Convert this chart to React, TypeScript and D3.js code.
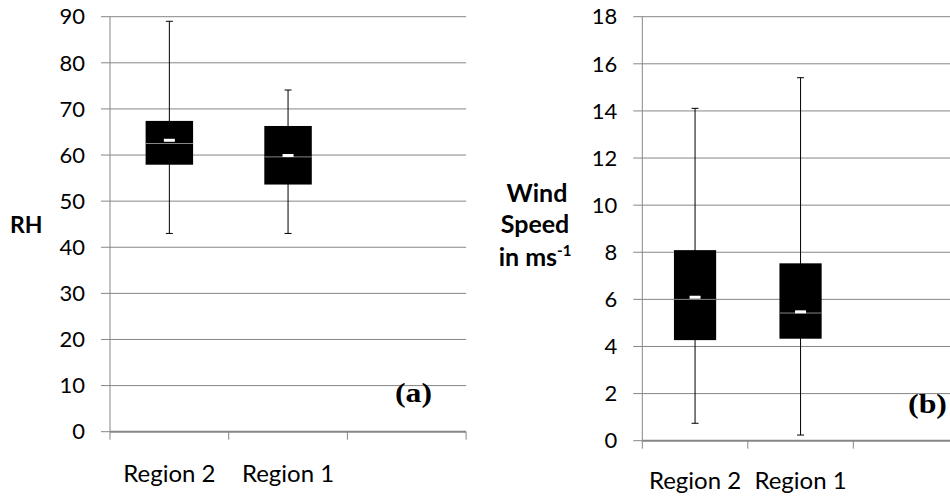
import React from "react";
import * as d3 from "d3";

// Categories along the x axis (third slot is an empty band)
const categories = ["Region 2", "Region 1", ""];

// Relative humidity box statistics, per region
const rhLow = [43, 43];
const rhQ1 = [57.9, 53.6];
const rhMedian = [62.5, 59.6];
const rhMean = [63.2, 59.9];
const rhQ3 = [67.4, 66.3];
const rhHigh = [89, 74.1];
const rhTicks = [0, 10, 20, 30, 40, 50, 60, 70, 80, 90];

// Wind speed box statistics, per region (m/s)
const wsLow = [0.74, 0.24];
const wsQ1 = [4.27, 4.33];
const wsMedian = [6.0, 5.42];
const wsMean = [6.09, 5.47];
const wsQ3 = [8.09, 7.53];
const wsHigh = [14.11, 15.41];
const wsTicks = [0, 2, 4, 6, 8, 10, 12, 14, 16, 18];

const GRID = "#868686";
const SANS = "Lato, 'Open Sans', sans-serif";
const SERIF = "'Liberation Serif', 'Times New Roman', serif";

type PanelProps = {
  left: number;
  bandWidth: number;
  top: number;
  bottom: number;
  maxY: number;
  ticks: number[];
  low: number[];
  q1: number[];
  median: number[];
  mean: number[];
  q3: number[];
  high: number[];
  labelY: number;
};

function BoxPanel(p: PanelProps) {
  const x = d3
    .scaleBand<string>()
    .domain(categories)
    .range([p.left, p.left + p.bandWidth * categories.length])
    .paddingInner(0)
    .paddingOuter(0);
  const y = d3.scaleLinear().domain([0, p.maxY]).range([p.bottom, p.top]);
  const [x0, x1] = x.range();
  const boxW = x.bandwidth() * 0.4;
  const tickEdges = categories.map((c) => x(c)!).concat([x1]);

  return (
    <g>
      {/* horizontal gridlines, extended left as tick marks */}
      {p.ticks.map((t) =>
        t === 0 ? null : (
          <line key={"g" + t} x1={x0 - 9} x2={x1} y1={y(t)} y2={y(t)} stroke={GRID} strokeWidth={1} />
        )
      )}
      <line x1={x0 - 9} x2={x0} y1={y(0)} y2={y(0)} stroke={GRID} strokeWidth={1} />
      {/* y axis */}
      <line x1={x0} x2={x0} y1={y(p.maxY)} y2={y(0)} stroke={GRID} strokeWidth={1} />
      {/* x axis */}
      <line x1={x0} x2={x1} y1={y(0)} y2={y(0)} stroke={GRID} strokeWidth={2} />
      {tickEdges.map((tx, i) => (
        <line key={"xt" + i} x1={tx} x2={tx} y1={y(0)} y2={y(0) + 8} stroke={GRID} strokeWidth={1} />
      ))}
      {/* y tick labels */}
      {p.ticks.map((t) => (
        <text
          key={"yl" + t}
          x={x0 - 25}
          y={y(t)}
          dy="0.35em"
          textAnchor="end"
          fontFamily={SANS}
          fontSize={22}
          fill="#000"
        >
          {t}
        </text>
      ))}
      {/* boxes */}
      {p.low.map((_, i) => {
        const cx = x(categories[i])! + x.bandwidth() / 2;
        return (
          <g key={"b" + i}>
            <line x1={cx} x2={cx} y1={y(p.high[i])} y2={y(p.low[i])} stroke="#000" strokeWidth={1} />
            <line x1={cx - 3.5} x2={cx + 3.5} y1={y(p.high[i])} y2={y(p.high[i])} stroke="#000" strokeWidth={1} />
            <line x1={cx - 3.5} x2={cx + 3.5} y1={y(p.low[i])} y2={y(p.low[i])} stroke="#000" strokeWidth={1} />
            <rect
              x={cx - boxW / 2}
              y={y(p.q3[i])}
              width={boxW}
              height={y(p.q1[i]) - y(p.q3[i])}
              fill="#000"
            />
            <line
              x1={cx - boxW / 2}
              x2={cx + boxW / 2}
              y1={y(p.median[i])}
              y2={y(p.median[i])}
              stroke={GRID}
              strokeWidth={1}
            />
            <rect x={cx - 5.5} y={y(p.mean[i]) - 1.5} width={11} height={3} fill="#fff" />
          </g>
        );
      })}
      {/* category labels */}
      {categories.map((c) =>
        c ? (
          <text
            key={"cl" + c}
            x={x(c)! + x.bandwidth() / 2}
            y={p.labelY}
            textAnchor="middle"
            fontFamily={SANS}
            fontSize={24}
            fill="#000"
          >
            {c}
          </text>
        ) : null
      )}
    </g>
  );
}

export default function App() {
  return (
    <svg
      width={950}
      height={500}
      style={{ position: "absolute", left: 0, top: 0, background: "#fff" }}
    >
      <rect x={0} y={0} width={950} height={500} fill="#fff" />
      <BoxPanel
        left={110}
        bandWidth={118.7}
        top={16.7}
        bottom={431.7}
        maxY={90}
        ticks={rhTicks}
        low={rhLow}
        q1={rhQ1}
        median={rhMedian}
        mean={rhMean}
        q3={rhQ3}
        high={rhHigh}
        labelY={481.5}
      />
      <BoxPanel
        left={642.3}
        bandWidth={105.5}
        top={16.7}
        bottom={440.7}
        maxY={18}
        ticks={wsTicks}
        low={wsLow}
        q1={wsQ1}
        median={wsMedian}
        mean={wsMean}
        q3={wsQ3}
        high={wsHigh}
        labelY={489}
      />
      {/* axis titles */}
      <text x={10} y={233} fontFamily={SANS} fontWeight="bold" fontSize={23} fill="#000">
        RH
      </text>
      <g fontFamily={SANS} fontWeight="bold" fontSize={25} fill="#000" textAnchor="middle">
        <text x={537} y={201.5}>Wind</text>
        <text x={535} y={233}>Speed</text>
        <text x={535} y={266}>
          <tspan>in ms</tspan>
          <tspan fontSize={15} dy={-10}>-1</tspan>
        </text>
      </g>
      {/* panel tags */}
      <text
        x={395}
        y={401.5}
        fontFamily={SERIF}
        fontWeight="bold"
        fontSize={27}
        textLength={37}
        lengthAdjust="spacingAndGlyphs"
        fill="#000"
      >
        (a)
      </text>
      <text
        x={908}
        y={413}
        fontFamily={SERIF}
        fontWeight="bold"
        fontSize={27}
        textLength={39}
        lengthAdjust="spacingAndGlyphs"
        fill="#000"
      >
        (b)
      </text>
    </svg>
  );
}
